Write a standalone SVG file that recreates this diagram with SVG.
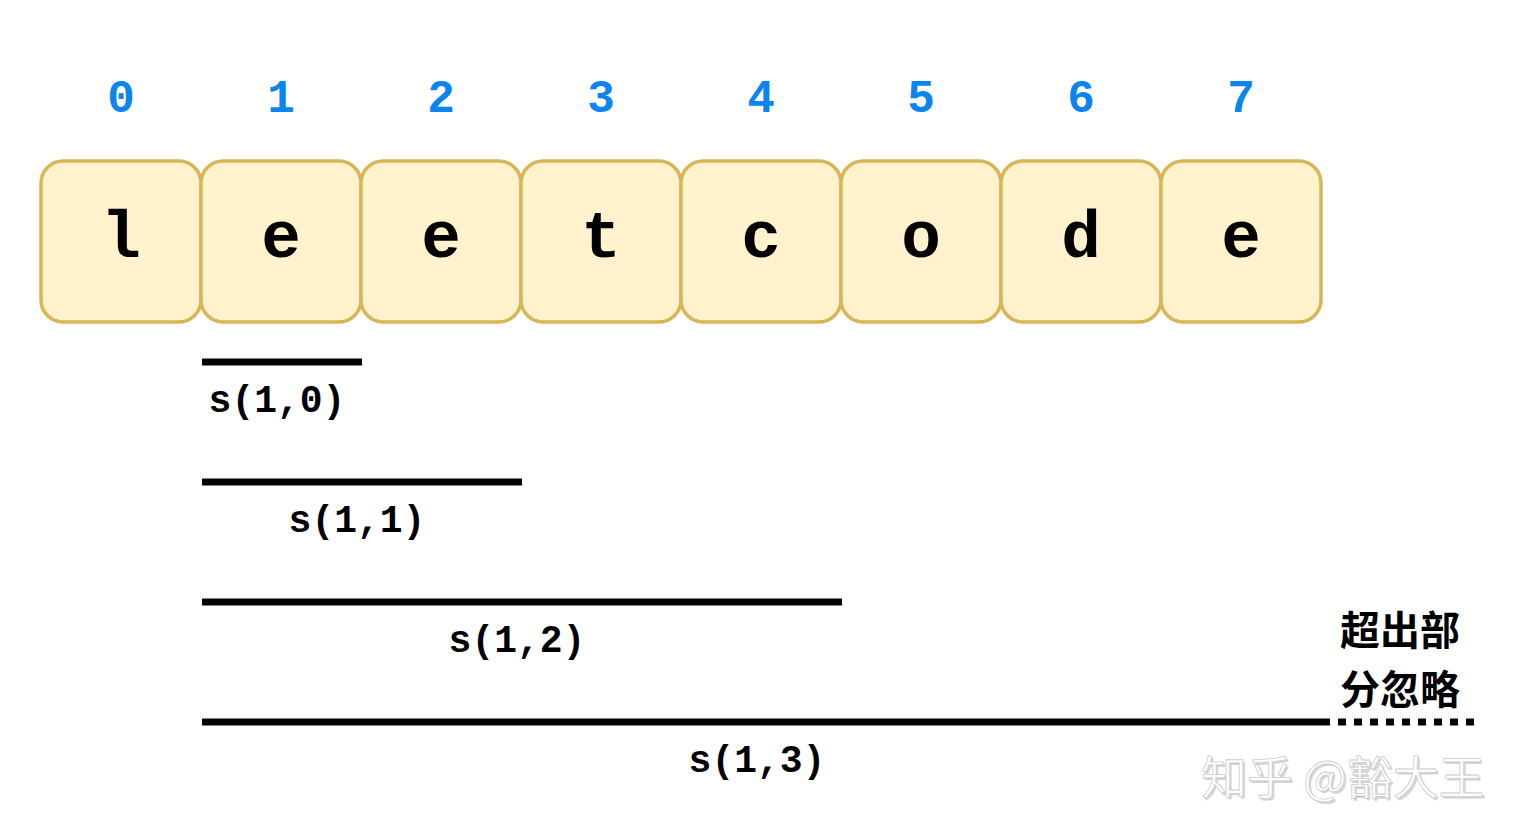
<svg xmlns="http://www.w3.org/2000/svg" width="1528" height="840" viewBox="0 0 1528 840">
<style>
.box{fill:#fff2cc;stroke:#d6b656;stroke-width:3.5}
.ch{font-family:"Liberation Mono","Courier New",monospace;font-weight:bold;font-size:66px;fill:#000;text-anchor:middle}
.idx{font-family:"Liberation Mono","Courier New",monospace;font-weight:bold;font-size:46px;fill:#0a84f0;text-anchor:middle}
.lbl{font-family:"Liberation Mono","Courier New",monospace;font-weight:bold;font-size:38px;fill:#000;text-anchor:middle}
.bar{stroke:#000;stroke-width:7;fill:none}
.cn{font-family:"Noto Sans CJK SC","Noto Sans",sans-serif;font-weight:bold;font-size:40px;fill:#000;text-anchor:middle}
.wm{font-family:"Noto Sans CJK SC","Noto Sans",sans-serif;font-size:46px;text-anchor:start}
</style>
<rect width="1528" height="840" fill="#fff"/>
<g id="indices">
<text class="idx" x="121" y="112">0</text>
<text class="idx" x="281" y="112">1</text>
<text class="idx" x="441" y="112">2</text>
<text class="idx" x="601" y="112">3</text>
<text class="idx" x="761" y="112">4</text>
<text class="idx" x="921" y="112">5</text>
<text class="idx" x="1081" y="112">6</text>
<text class="idx" x="1241" y="112">7</text>
</g>
<g id="cell0"><rect class="box" x="41" y="161" width="160" height="161" rx="22"/><text class="ch" x="121" y="257">l</text></g>
<g id="cell1"><rect class="box" x="201" y="161" width="160" height="161" rx="22"/><text class="ch" x="281" y="257">e</text></g>
<g id="cell2"><rect class="box" x="361" y="161" width="160" height="161" rx="22"/><text class="ch" x="441" y="257">e</text></g>
<g id="cell3"><rect class="box" x="521" y="161" width="160" height="161" rx="22"/><text class="ch" x="601" y="257">t</text></g>
<g id="cell4"><rect class="box" x="681" y="161" width="160" height="161" rx="22"/><text class="ch" x="761" y="257">c</text></g>
<g id="cell5"><rect class="box" x="841" y="161" width="160" height="161" rx="22"/><text class="ch" x="921" y="257">o</text></g>
<g id="cell6"><rect class="box" x="1001" y="161" width="160" height="161" rx="22"/><text class="ch" x="1081" y="257">d</text></g>
<g id="cell7"><rect class="box" x="1161" y="161" width="160" height="161" rx="22"/><text class="ch" x="1241" y="257">e</text></g>
<g id="connectors">
<line class="bar" x1="202" y1="362" x2="362" y2="362"/>
<line class="bar" x1="202" y1="482" x2="522" y2="482"/>
<line class="bar" x1="202" y1="602" x2="842" y2="602"/>
<line class="bar" x1="202" y1="722" x2="1330" y2="722"/>
<line class="bar" x1="1338" y1="722" x2="1474" y2="722" stroke-dasharray="8 8"/>
</g>
<g id="labels">
<text class="lbl" x="277" y="412">s(1,0)</text>
<text class="lbl" x="357" y="532">s(1,1)</text>
<text class="lbl" x="517" y="652">s(1,2)</text>
<text class="lbl" x="757" y="772">s(1,3)</text>
</g>
<g id="note">
<text class="cn" x="1400" y="645">超出部</text>
<text class="cn" x="1400" y="704">分忽略</text>
</g>
<g id="watermark">
<text class="wm" x="1203" y="796" fill="#d4d4d4">知乎 @豁大王</text>
<text class="wm" x="1201" y="794" fill="#ffffff" stroke="#cccccc" stroke-width="0.8">知乎 @豁大王</text>
</g>
</svg>
